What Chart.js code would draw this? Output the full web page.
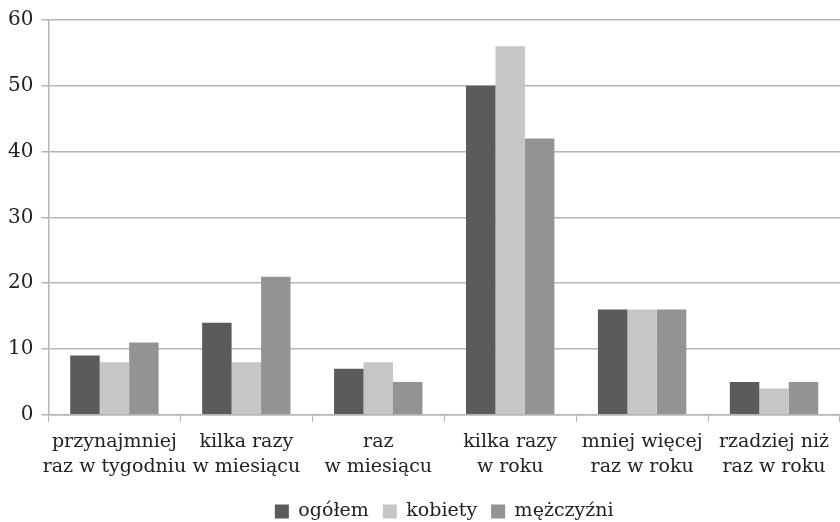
<!DOCTYPE html>
<html>
<head>
<meta charset="utf-8">
<script src="https://cdn.jsdelivr.net/npm/chart.js@4"></script>
<style>
  html, body { margin: 0; padding: 0; background: #fff; }
  #wrap { width: 840px; height: 522px; }
</style>
</head>
<body>
<div id="wrap"><canvas id="c" width="840" height="522"></canvas></div>
<script>
const categories = [
  ["przynajmniej", "raz w tygodniu"],
  ["kilka razy", "w miesiącu"],
  ["raz", "w miesiącu"],
  ["kilka razy", "w roku"],
  ["mniej więcej", "raz w roku"],
  ["rzadziej niż", "raz w roku"]
];
const ogolem = [9, 14, 7, 50, 16, 5];
const kobiety = [8, 8, 8, 56, 16, 4];
const mezczyzni = [11, 21, 5, 42, 16, 5];
const seriesNames = ["ogółem", "kobiety", "mężczyźni"];

const font = "'DejaVu Serif', 'Liberation Serif', serif";
const gridColor = "#b5b5b5";

new Chart(document.getElementById("c"), {
  type: "bar",
  data: {
    labels: categories,
    datasets: [
      { label: seriesNames[0], data: ogolem, backgroundColor: "#5b5b5d" },
      { label: seriesNames[1], data: kobiety, backgroundColor: "#c6c6c8" },
      { label: seriesNames[2], data: mezczyzni, backgroundColor: "#939395" }
    ]
  },
  options: {
    responsive: false,
    animation: false,
    layout: { padding: { top: 16, right: 0, left: 0, bottom: -9 } },
    datasets: { bar: { categoryPercentage: 0.67, barPercentage: 1.0 } },
    scales: {
      x: {
        grid: { display: true, drawOnChartArea: false, offset: true, color: gridColor, tickLength: 7 },
        border: { color: gridColor, width: 1.5 },
        ticks: { color: "#222", font: { family: font, size: 19, lineHeight: 1.32 }, maxRotation: 0, autoSkip: false, padding: 8 }
      },
      y: {
        min: 0, max: 60,
        ticks: { stepSize: 10, color: "#222", font: { family: font, size: 20 }, padding: 8 },
        grid: { color: gridColor, lineWidth: 1.5, tickLength: 7 },
        border: { color: gridColor, width: 1.5 }
      }
    },
    plugins: {
      legend: {
        position: "bottom",
        fullSize: false,
        labels: {
          color: "#222",
          font: { family: font, size: 19 },
          boxWidth: 14, boxHeight: 14, padding: 14
        }
      },
      tooltip: { enabled: false }
    }
  }
});
</script>
</body>
</html>
